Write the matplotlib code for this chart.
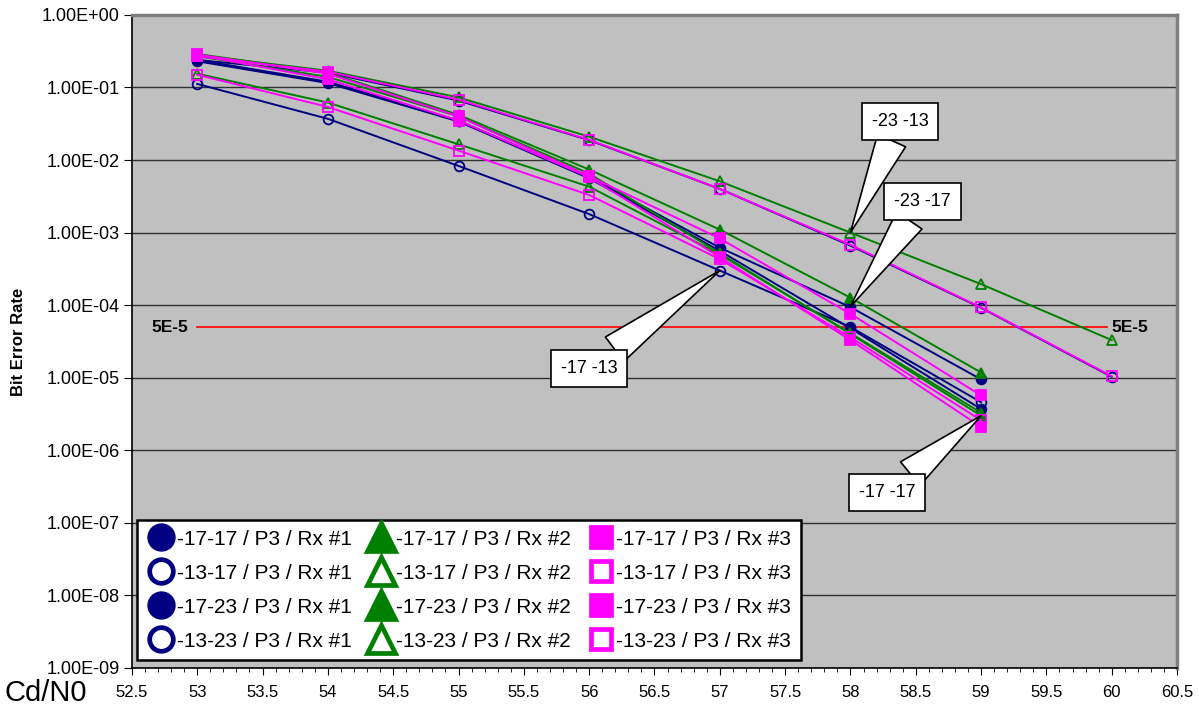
#! /usr/bin/env python
"""
  BER vs Cd/N0 curves for three receivers, saved to out.png
"""

import numpy as np
import matplotlib
matplotlib.use('Agg')
import matplotlib.pyplot as plt
from matplotlib.lines import Line2D
from matplotlib.ticker import FixedLocator, FuncFormatter, MultipleLocator

matplotlib.rcParams['font.family'] = ['Liberation Sans', 'DejaVu Sans']

# measured points
cn0 = [53, 54, 55, 56, 57, 58, 59]
cn0_long = [53, 54, 55, 56, 57, 58, 59, 60]

ber_1717_rx1 = [0.23, 0.115, 0.034, 5.6e-3, 5.6e-4, 4.8e-5, 3.7e-6]
ber_1717_rx2 = [0.27, 0.14, 0.040, 6.5e-3, 5.2e-4, 4.0e-5, 3.0e-6]
ber_1717_rx3 = [0.28, 0.13, 0.035, 5.8e-3, 4.6e-4, 3.3e-5, 2.1e-6]

ber_1317_rx1 = [0.112, 0.037, 8.3e-3, 1.8e-3, 3.0e-4, 5.0e-5, 4.6e-6]
ber_1317_rx2 = [0.155, 0.062, 0.0165, 4.3e-3, 5.0e-4, 4.1e-5, 3.3e-6]
ber_1317_rx3 = [0.15, 0.054, 0.0135, 3.3e-3, 4.3e-4, 3.6e-5, 2.6e-6]

ber_1723_rx1 = [0.24, 0.12, 0.035, 5.8e-3, 6.2e-4, 9.4e-5, 9.5e-6]
ber_1723_rx2 = [0.29, 0.16, 0.042, 7.4e-3, 1.1e-3, 1.27e-4, 1.18e-5]
ber_1723_rx3 = [0.285, 0.155, 0.040, 6.0e-3, 8.3e-4, 7.6e-5, 5.7e-6]

ber_1323_rx1 = [0.24, 0.16, 0.066, 0.0188, 4.0e-3, 6.6e-4, 9.2e-5, 1.03e-5]
ber_1323_rx2 = [0.28, 0.17, 0.073, 0.021, 5.1e-3, 1.0e-3, 1.95e-4, 3.3e-5]
ber_1323_rx3 = [0.27, 0.165, 0.068, 0.019, 4.0e-3, 6.8e-4, 9.3e-5, 1.05e-5]

threshold = 5e-5
threshold_label = '5E-5'

labels = [
  '-17-17 / P3 / Rx #1', '-13-17 / P3 / Rx #1', '-17-23 / P3 / Rx #1', '-13-23 / P3 / Rx #1',
  '-17-17 / P3 / Rx #2', '-13-17 / P3 / Rx #2', '-17-23 / P3 / Rx #2', '-13-23 / P3 / Rx #2',
  '-17-17 / P3 / Rx #3', '-13-17 / P3 / Rx #3', '-17-23 / P3 / Rx #3', '-13-23 / P3 / Rx #3',
]

callout_text = ['-23 -13', '-23 -17', '-17 -13', '-17 -17']
callout_point = [(58, 1.0e-3), (58, 9.6e-5), (57, 3.0e-4), (59, 3.0e-6)]
callout_box = [(58.38, 3.4e-2), (58.55, 2.7e-3), (56.0, 1.35e-5), (58.28, 2.6e-7)]

navy = '#000080'
green = '#008000'
magenta = '#FF00FF'


def main():
  fig = plt.figure(figsize=(11.99, 7.11), dpi=100)
  ax = fig.add_axes([0.110, 0.0605, 0.8717, 0.9185])
  ax.set_facecolor('#C0C0C0')

  series = [
    (cn0, ber_1717_rx1, navy, 'o', True),
    (cn0, ber_1317_rx1, navy, 'o', False),
    (cn0, ber_1723_rx1, navy, 'o', True),
    (cn0_long, ber_1323_rx1, navy, 'o', False),
    (cn0, ber_1717_rx2, green, '^', True),
    (cn0, ber_1317_rx2, green, '^', False),
    (cn0, ber_1723_rx2, green, '^', True),
    (cn0_long, ber_1323_rx2, green, '^', False),
    (cn0, ber_1717_rx3, magenta, 's', True),
    (cn0, ber_1317_rx3, magenta, 's', False),
    (cn0, ber_1723_rx3, magenta, 's', True),
    (cn0_long, ber_1323_rx3, magenta, 's', False),
  ]
  leg_ms = {'o': 17, '^': 20, 's': 15}

  handles = []
  for (x, y, c, m, filled), lab in zip(series, labels):
    fc = c if filled else 'none'
    ax.plot(x, y, color=c, lw=1.4, marker=m, ms=7, mfc=fc, mec=c, mew=1.3, zorder=3)
    handles.append(Line2D([], [], ls='none', marker=m, ms=leg_ms[m], color=c,
                          mfc=c if filled else 'white', mec=c, mew=3.4, label=lab))

  # threshold line
  ax.plot([53, 59.96], [threshold, threshold], color='red', lw=1.2, zorder=2)
  ax.text(52.93, threshold, threshold_label, ha='right', va='center',
          fontsize=12.5, fontweight='bold')
  ax.text(60.0, threshold, threshold_label, ha='left', va='center',
          fontsize=12.5, fontweight='bold')

  # callouts
  for txt, pt, box in zip(callout_text, callout_point, callout_box):
    ax.annotate(txt, xy=pt, xytext=box, ha='center', va='center', fontsize=13,
                bbox=dict(boxstyle='square,pad=0.55', fc='white', ec='black', lw=1.2),
                arrowprops=dict(arrowstyle='wedge,tail_width=1.7,shrink_factor=0.5',
                                fc='white', ec='black', lw=1.2, shrinkA=0, shrinkB=0),
                zorder=5)

  ax.set_yscale('log')
  ax.set_ylim(1e-9, 1)
  ax.set_xlim(52.5, 60.5)
  ax.yaxis.set_major_locator(FixedLocator([10.0**k for k in range(-9, 1)]))
  ax.yaxis.set_minor_locator(FixedLocator([]))
  ax.yaxis.set_major_formatter(FuncFormatter(lambda v, p: '%.2E' % v))
  ax.xaxis.set_major_locator(MultipleLocator(0.5))
  ax.xaxis.set_minor_locator(MultipleLocator(0.1))
  ax.xaxis.set_major_formatter(FuncFormatter(lambda v, p: ('%g' % v)))
  ax.grid(axis='y', which='major', color='#000000', lw=1.0, alpha=0.75, zorder=1)
  ax.set_axisbelow(True)

  ax.tick_params(axis='y', direction='out', length=6, labelsize=13, pad=3)
  ax.tick_params(axis='x', which='major', direction='out', length=5, labelsize=12, pad=7)
  ax.tick_params(axis='x', which='minor', direction='out', length=3)

  for s in ['left', 'bottom']:
    ax.spines[s].set_color('black')
    ax.spines[s].set_linewidth(1.2)
  for s in ['top', 'right']:
    ax.spines[s].set_color('#808080')
    ax.spines[s].set_linewidth(2.5)

  ax.set_ylabel('Bit Error Rate', fontsize=12, fontweight='bold', labelpad=11)
  fig.text(0.004, 0.026, 'Cd/N0', fontsize=21, ha='left', va='center')

  leg = ax.legend(handles=handles, ncol=3, loc='lower left', bbox_to_anchor=(0.005, 0.012),
                  fontsize=15, frameon=True, fancybox=False, edgecolor='black',
                  framealpha=1.0, facecolor='white',
                  handlelength=1.4, handletextpad=0.05, columnspacing=0.7,
                  labelspacing=0.72, borderpad=0.45, borderaxespad=0.0)
  leg.get_frame().set_linewidth(1.8)
  leg.set_zorder(10)

  plt.savefig('out.png', dpi=100)
  plt.close()


if __name__ == "__main__":
  main()
